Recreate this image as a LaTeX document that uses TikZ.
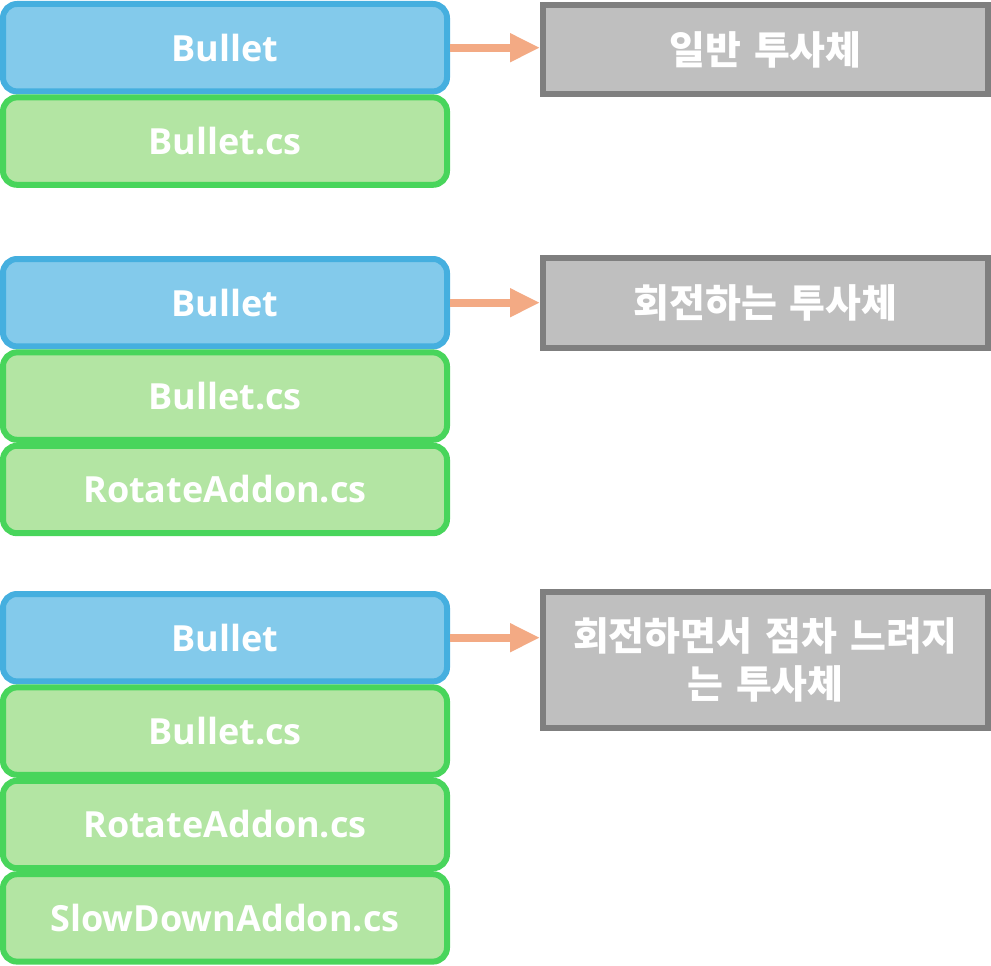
\documentclass[tikz,border=0pt]{standalone}
\usepackage{fontspec}
\setmainfont{Open Sans}
\newfontfamily\kr{Noto Sans CJK KR}
\usetikzlibrary{positioning,arrows.meta}
\definecolor{bluefill}{HTML}{83CAEB}
\definecolor{blueline}{HTML}{45AFDF}
\definecolor{greenfill}{HTML}{B3E5A3}
\definecolor{greenline}{HTML}{48D55B}
\definecolor{grayfill}{HTML}{BFBFBF}
\definecolor{grayline}{HTML}{7F7F7F}
\definecolor{arrowc}{HTML}{F3AA84}
\begin{document}
\begin{tikzpicture}[x=1pt, y=-1pt,
    head/.style = {draw=blueline, fill=bluefill, line width=6pt, rounded corners=14pt, minimum width=444pt, minimum height=87.4pt, inner sep=4pt, text=white, font=\bfseries\fontsize{36}{42}\selectfont},
    part/.style = {head, draw=greenline, fill=greenfill},
    kind/.style = {draw=grayline, fill=grayfill, line width=6pt, minimum width=445pt, inner sep=4pt, text width=430pt, align=center, text=white, font=\kr\bfseries\fontsize{39}{48}\selectfont},
    link/.style = {draw=arrowc, line width=8pt, -{Triangle[width=27pt,length=30pt]}}]
    \useasboundingbox (0,0) rectangle (991,966);
    % plain bullet
    \node[head] (b1) at (225,47.7) {Bullet};
    \node[part] (c1) [below=0pt of b1] {Bullet.cs};
    \node[kind, minimum height=89pt] (k1) at (765.5,49.5) {일반 투사체};
    % rotating bullet
    \node[head] (b2) at (225,302.7) {Bullet};
    \node[part] (c2) [below=0pt of b2] {Bullet.cs};
    \node[part] (r2) [below=0pt of c2] {RotateAddon.cs};
    \node[kind, minimum height=90pt] (k2) at (765.5,303) {회전하는 투사체};
    % rotating and slowing bullet
    \node[head] (b3) at (225,637.7) {Bullet};
    \node[part] (c3) [below=0pt of b3] {Bullet.cs};
    \node[part] (r3) [below=0pt of c3] {RotateAddon.cs};
    \node[part] (s3) [below=0pt of r3] {SlowDownAddon.cs};
    \node[kind, minimum height=136pt] (k3) at (765.5,660) {회전하면서 점차 느려지\\는 투사체};
    \draw[link] (b1.east) -- (b1.east -| k1.west);
    \draw[link] (b2.east) -- (b2.east -| k2.west);
    \draw[link] (b3.east) -- (b3.east -| k3.west);
\end{tikzpicture}
\end{document}
